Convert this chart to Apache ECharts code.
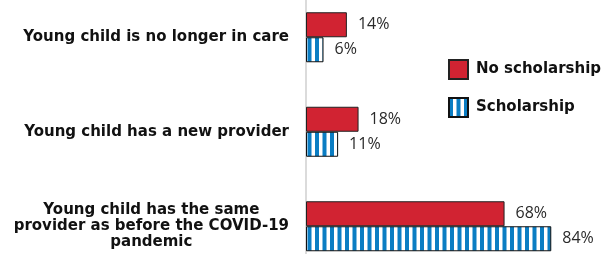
<!DOCTYPE html>
<html><head><meta charset="utf-8">
<script src="https://cdn.jsdelivr.net/npm/echarts@6/dist/echarts.min.js"></script>
<style>html,body{margin:0;padding:0;background:#fff}#c{width:603px;height:254px}</style>
</head><body><div id="c"></div>
<script>
const categories = ["Young child is no longer in care", "Young child has a new provider", "Young child has the same\nprovider as before the COVID-19\npandemic"];
const seriesNames = ["No scholarship", "Scholarship"];
const noScholarship = [14, 18, 68];
const scholarship = [6, 11, 84];

const pc = document.createElement('canvas');
pc.width = 15; pc.height = 4;
const ctx = pc.getContext('2d');
ctx.fillStyle = '#ffffff'; ctx.fillRect(0,0,15,4);
ctx.fillStyle = '#0a7dc3';
ctx.fillRect(0,0,4,4);
ctx.fillRect(7.5,0,4,4);

const catFont = {fontFamily:'DejaVu Sans', fontWeight:'bold', fontSize:15, color:'#111', lineHeight:16};
const chart = echarts.init(document.getElementById('c'), null, {renderer:'canvas'});
const labelStyle = {show:true, position:'right', distance:11, formatter:'{c}%', fontFamily:'Open Sans', fontSize:16, color:'#2a2a2a'};
chart.setOption({
  animation:false,
  grid:{left:306, width:292, top:-10, height:283.5, containLabel:false, outerBoundsMode:'none'},
  legend:{orient:'vertical', left:443, top:54, itemWidth:19, itemHeight:19, itemGap:17, icon:'rect',
    textStyle:{fontFamily:'DejaVu Sans', fontWeight:'bold', fontSize:15, color:'#111', padding:[0,0,0,3]}, data:seriesNames},
  xAxis:{type:'value', min:0, max:100, show:false},
  yAxis:{type:'category', inverse:true, data:categories,
    axisLine:{show:true, lineStyle:{color:'#cfcfcf', width:1.5}},
    axisTick:{show:false},
    axisLabel:Object.assign({margin:17, align:'right',
      formatter:function(v){ return v.indexOf('\n')>=0 ? v.split('\n').map(function(l){return '{c|'+l+'}';}).join('\n') : v; },
      rich:{c:Object.assign({align:'center'}, catFont)}
    }, catFont)
  },
  series:[
    {name:seriesNames[0], type:'bar', data:noScholarship, barWidth:25, barGap:'0%',
     itemStyle:{color:'#d12332', borderColor:'#222', borderWidth:1}, label:labelStyle},
    {name:seriesNames[1], type:'bar', data:scholarship, barWidth:25, barGap:'0%',
     itemStyle:{color:{image:pc, repeat:'repeat'}, borderColor:'#111', borderWidth:1}, label:labelStyle}
  ]
});
</script></body></html>
